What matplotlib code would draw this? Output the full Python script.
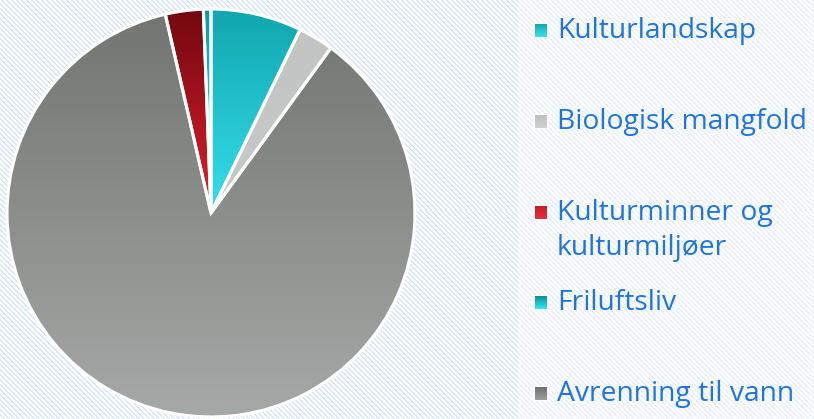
import numpy as np
import matplotlib
matplotlib.use("Agg")
import matplotlib.pyplot as plt
from matplotlib.colors import LinearSegmentedColormap
from matplotlib.patches import Rectangle

# Slices as drawn, clockwise from 12 o'clock
pie_labels = ["Kulturlandskap", "Biologisk mangfold", "Avrenning til vann",
              "Kulturminner og kulturmiljøer", "Friluftsliv"]
pie_values = [7.2, 2.8, 86.4, 3.0, 0.6]
# top colour, bottom colour of each slice gradient
pie_top = ["#10a6ae", "#c2c4c3", "#717672", "#72080e", "#0c9aa2"]
pie_bottom = ["#36dfec", "#c8cac9", "#a5a9a7", "#e0202e", "#34e4f0"]

# Legend order as shown on the right
legend_labels = ["Kulturlandskap", "Biologisk mangfold", "Kulturminner og\nkulturmiljøer",
                 "Friluftsliv", "Avrenning til vann"]
legend_top = ["#12a9b1", "#bdbfbe", "#c81c28", "#0a8f96", "#6e726f"]
legend_bottom = ["#38e2ee", "#d0d2d1", "#e8303c", "#30e8f4", "#9a9e9c"]

W, H = 814, 419
fig = plt.figure(figsize=(W / 100, H / 100), dpi=100)

# striped background
yy, xx = np.mgrid[0:H, 0:W]
stripe = ((xx - yy) % 5) < 2
bg = np.ones((H, W, 3))
blue = np.array([0.84, 0.90, 0.98])
pale = np.array([0.91, 0.945, 0.99])
bg[stripe] = blue
leg_area = stripe & (xx >= 518)
bg[leg_area] = pale
bax = fig.add_axes([0, 0, 1, 1])
bax.imshow(bg, extent=[0, W, H, 0], aspect="auto", interpolation="nearest")
bax.axis("off")

# pie
cx, cy, r = 211, 213, 206
ax = fig.add_axes([(cx - r) / W, (H - cy - r) / H, 2 * r / W, 2 * r / H])
wedges, _ = ax.pie(pie_values, startangle=90, counterclock=False, radius=1,
                   wedgeprops=dict(facecolor="none", edgecolor="white", linewidth=2.2))
for w in wedges:
    w.set_zorder(3)

for w, c0, c1 in zip(wedges, pie_top, pie_bottom):
    verts = w.get_path().vertices
    ymin, ymax = verts[:, 1].min(), verts[:, 1].max()
    cmap = LinearSegmentedColormap.from_list("g", [c1, c0])
    grad = np.linspace(0, 1, 256).reshape(-1, 1)
    im = ax.imshow(grad, cmap=cmap, extent=[-1.05, 1.05, ymin, ymax], origin="lower",
                   aspect="auto", zorder=2)
    im.set_clip_path(w)

ax.set_xlim(-1.01, 1.01)
ax.set_ylim(-1.01, 1.01)
ax.set_aspect("equal")
ax.axis("off")

# legend
text_color = "#1f74e0"
marker_y = [31, 122, 213, 303, 394]
for lab, c0, c1, my in zip(legend_labels, legend_top, legend_bottom, marker_y):
    cmap = LinearSegmentedColormap.from_list("g", [c0, c1])
    grad = np.linspace(0, 1, 64).reshape(-1, 1)
    bax.add_patch(Rectangle((533, my - 8), 15, 15, facecolor="white", edgecolor="none", zorder=2))
    bax.imshow(grad, cmap=cmap, extent=[534.5, 546.5, my + 6, my - 6.5], aspect="auto", zorder=3)
    for i, line in enumerate(lab.split("\n")):
        bax.text(557, my + i * 35, line, color=text_color, fontsize=20.3, family="Open Sans",
                 va="center", ha="left", zorder=4)

bax.set_xlim(0, W)
bax.set_ylim(H, 0)

fig.savefig("out.png", dpi=100)
